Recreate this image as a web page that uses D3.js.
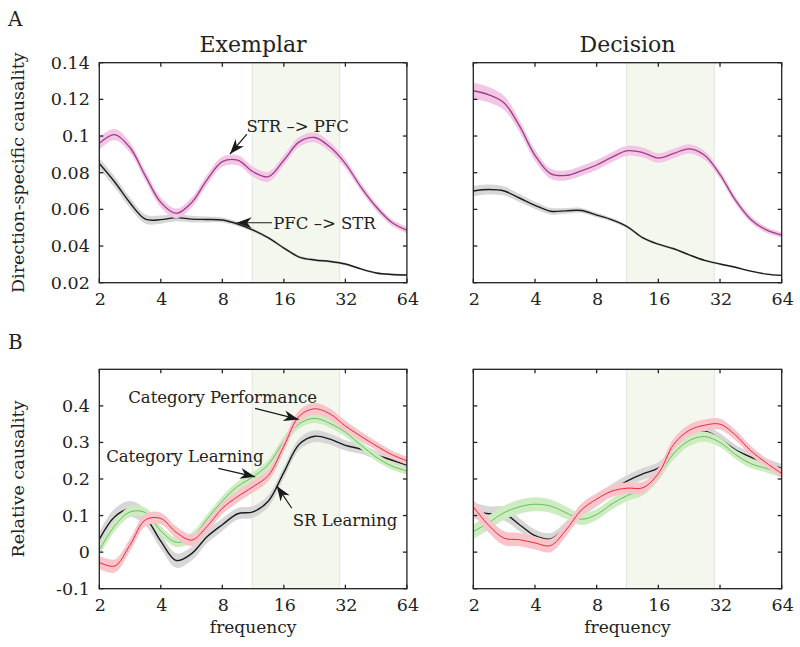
<!DOCTYPE html>
<html>
<head>
<meta charset="utf-8">
<script src="https://cdn.jsdelivr.net/npm/d3@7"></script>
<style>
  body { margin: 0; background: #fff; }
  svg { display: block; }
  text { font-family: "DejaVu Serif", serif; fill: #222; }
</style>
</head>
<body>
<svg id="chart"></svg>
<script>
// frequency grid (Hz), log2 spaced
const freqs = [2, 2.38, 2.83, 3.36, 4, 4.76, 5.66, 6.73, 8, 9.51, 11.31, 13.45, 16, 19.03, 22.63, 26.91, 32, 38.05, 45.25, 53.82, 64];
const xTickVals = [2, 4, 8, 16, 32, 64];
const topTicks = [0.02, 0.04, 0.06, 0.08, 0.1, 0.12, 0.14];
const topTickLabels = ["0.02", "0.04", "0.06", "0.08", "0.1", "0.12", "0.14"];
const botTicks = [-0.1, 0, 0.1, 0.2, 0.3, 0.4];
const botTickLabels = ["-0.1", "0", "0.1", "0.2", "0.3", "0.4"];
const betaBand = [11.2, 30];

// A: Exemplar
const exPfcStr = [0.085, 0.0749, 0.0635, 0.0547, 0.0544, 0.0555, 0.0547, 0.0545, 0.0542, 0.052, 0.0487, 0.0444, 0.0389, 0.034, 0.0324, 0.0316, 0.0302, 0.0275, 0.0253, 0.0245, 0.0242];
const exPfcStrErr = [0.003, 0.003, 0.0028, 0.0025, 0.0022, 0.002, 0.0018, 0.0016, 0.0014, 0.0012, 0.001, 0.0009, 0.0008, 0.0008, 0.0007, 0.0007, 0.0007, 0.0006, 0.0006, 0.0006, 0.0006];
const exStrPfc = [0.096, 0.1008, 0.0936, 0.0783, 0.0638, 0.0578, 0.0637, 0.0761, 0.086, 0.0868, 0.0805, 0.0778, 0.0868, 0.0968, 0.0992, 0.094, 0.085, 0.0723, 0.0614, 0.053, 0.0487];
const exStrPfcErr = [0.0035, 0.003, 0.0028, 0.0027, 0.0027, 0.0027, 0.0027, 0.0027, 0.0027, 0.0027, 0.0027, 0.0027, 0.0027, 0.0027, 0.0027, 0.0026, 0.0025, 0.0022, 0.002, 0.0018, 0.0018];

// A: Decision
const dePfcStr = [0.070, 0.0708, 0.070, 0.0662, 0.0622, 0.059, 0.0592, 0.0594, 0.0569, 0.0543, 0.0505, 0.0445, 0.041, 0.0385, 0.0352, 0.0322, 0.0302, 0.0284, 0.0263, 0.0247, 0.024];
const dePfcStrErr = [0.0028, 0.0027, 0.0025, 0.0022, 0.002, 0.0018, 0.0016, 0.0014, 0.0012, 0.001, 0.0009, 0.0008, 0.0007, 0.0007, 0.0006, 0.0006, 0.0006, 0.0005, 0.0005, 0.0005, 0.0005];
const deStrPfc = [0.1247, 0.1225, 0.118, 0.1055, 0.0895, 0.0795, 0.0785, 0.081, 0.0842, 0.0885, 0.092, 0.091, 0.088, 0.0905, 0.093, 0.0895, 0.079, 0.065, 0.0545, 0.0488, 0.046];
const deStrPfcErr = [0.0045, 0.0042, 0.0038, 0.0033, 0.003, 0.0028, 0.0027, 0.0027, 0.0027, 0.0027, 0.0027, 0.0027, 0.0026, 0.0026, 0.0025, 0.0024, 0.0022, 0.002, 0.0018, 0.0016, 0.0015];

// B: Exemplar
const exSR = [0.035, 0.097, 0.118, 0.095, 0.03, -0.023, -0.004, 0.042, 0.075, 0.105, 0.11, 0.14, 0.218, 0.295, 0.317, 0.309, 0.292, 0.282, 0.266, 0.252, 0.238];
const exSRErr = [0.02, 0.022, 0.022, 0.022, 0.02, 0.02, 0.019, 0.018, 0.017, 0.016, 0.016, 0.016, 0.016, 0.016, 0.016, 0.015, 0.014, 0.013, 0.012, 0.011, 0.01];
const exCatLearn = [0.005, 0.072, 0.11, 0.108, 0.058, 0.027, 0.04, 0.09, 0.14, 0.18, 0.206, 0.24, 0.303, 0.351, 0.366, 0.352, 0.328, 0.293, 0.26, 0.236, 0.222];
const exCatLearnErr = [0.015, 0.015, 0.014, 0.014, 0.013, 0.013, 0.013, 0.013, 0.013, 0.013, 0.013, 0.013, 0.013, 0.013, 0.013, 0.012, 0.012, 0.011, 0.011, 0.01, 0.01];
const exCatPerf = [-0.028, -0.038, 0.02, 0.088, 0.092, 0.054, 0.033, 0.07, 0.12, 0.152, 0.179, 0.21, 0.29, 0.372, 0.392, 0.378, 0.345, 0.317, 0.291, 0.267, 0.25];
const exCatPerfErr = [0.018, 0.018, 0.017, 0.017, 0.016, 0.016, 0.016, 0.016, 0.016, 0.016, 0.016, 0.016, 0.016, 0.016, 0.016, 0.015, 0.014, 0.013, 0.012, 0.011, 0.011];

// B: Decision
const deSR = [0.115, 0.105, 0.105, 0.075, 0.045, 0.036, 0.068, 0.11, 0.14, 0.17, 0.195, 0.214, 0.23, 0.27, 0.31, 0.33, 0.31, 0.28, 0.26, 0.244, 0.229];
const deSRErr = [0.022, 0.02, 0.019, 0.018, 0.017, 0.016, 0.016, 0.016, 0.016, 0.016, 0.016, 0.016, 0.016, 0.016, 0.016, 0.016, 0.015, 0.014, 0.013, 0.012, 0.012];
const deCatLearn = [0.056, 0.081, 0.108, 0.124, 0.131, 0.126, 0.108, 0.09, 0.103, 0.132, 0.155, 0.17, 0.21, 0.27, 0.305, 0.316, 0.3, 0.267, 0.242, 0.229, 0.215];
const deCatLearnErr = [0.02, 0.02, 0.019, 0.019, 0.019, 0.018, 0.017, 0.016, 0.015, 0.015, 0.015, 0.015, 0.015, 0.015, 0.015, 0.014, 0.013, 0.012, 0.012, 0.011, 0.011];
const deCatPerf = [0.124, 0.073, 0.038, 0.034, 0.025, 0.018, 0.06, 0.115, 0.145, 0.167, 0.175, 0.176, 0.215, 0.295, 0.333, 0.347, 0.35, 0.32, 0.277, 0.244, 0.215];
const deCatPerfErr = [0.02, 0.02, 0.019, 0.018, 0.018, 0.018, 0.017, 0.017, 0.016, 0.016, 0.016, 0.016, 0.016, 0.016, 0.016, 0.016, 0.015, 0.014, 0.013, 0.012, 0.012];

const width = 800, height = 647;
const svg = d3.select("#chart").attr("width", width).attr("height", height);

const styles = {
    black: { band: "#d7d7d7", line: "#1c1c1c", w: 1.4 },
    magenta: { band: "#f4c6e5", line: "#9a3f88", w: 1.3 },
    green: { band: "#cdedc1", line: "#5db558", w: 0.9 },
    red: { band: "#f9c4ca", line: "#e52a3b", w: 1.0 }
};

function arrow(g, x1, y1, x2, y2) {
    // line from tail (x1,y1) to tip (x2,y2) with a filled barbed head
    const ang = Math.atan2(y2 - y1, x2 - x1) * 180 / Math.PI;
    g.append("line")
        .attr("x1", x1).attr("y1", y1).attr("x2", x2).attr("y2", y2)
        .attr("stroke", "#1a1a1a").attr("stroke-width", 1.2);
    g.append("path")
        .attr("d", "M0,0 L-15,-5.5 L-10.5,0 L-15,5.5 Z")
        .attr("fill", "#1a1a1a")
        .attr("transform", `translate(${x2},${y2}) rotate(${ang})`);
}

function drawPanel(p) {
    const g = svg.append("g");
    const x = d3.scaleLog().base(2).domain([2, 64]).range([p.x0, p.x1]);
    const y = d3.scaleLinear().domain(p.yDomain).range([p.y1, p.y0]);

    const clipId = "clip" + p.id;
    g.append("clipPath").attr("id", clipId)
        .append("rect").attr("x", p.x0).attr("y", p.y0)
        .attr("width", p.x1 - p.x0).attr("height", p.y1 - p.y0);

    // beta band shading
    g.append("rect")
        .attr("x", x(betaBand[0])).attr("y", p.y0)
        .attr("width", x(betaBand[1]) - x(betaBand[0]))
        .attr("height", p.y1 - p.y0)
        .attr("fill", "#f4f7ee");
    betaBand.forEach(f => {
        g.append("line")
            .attr("x1", x(f)).attr("x2", x(f)).attr("y1", p.y0).attr("y2", p.y1)
            .attr("stroke", "#e2e5df").attr("stroke-width", 1);
    });

    const plot = g.append("g").attr("clip-path", `url(#${clipId})`);
    const curve = d3.curveCatmullRom.alpha(0.5);

    p.series.forEach(s => {
        const st = styles[s.color];
        const pts = freqs.map((f, i) => ({ f: f, v: s.values[i], e: s.err[i] }));
        const area = d3.area()
            .x(d => x(d.f))
            .y0(d => y(d.v - d.e))
            .y1(d => y(d.v + d.e))
            .curve(curve);
        const line = d3.line()
            .x(d => x(d.f))
            .y(d => y(d.v))
            .curve(curve);
        plot.append("path").datum(pts).attr("d", area).attr("fill", st.band);
        plot.append("path").datum(pts).attr("d", line)
            .attr("fill", "none").attr("stroke", st.line).attr("stroke-width", st.w);
    });

    // frame with inward ticks on all sides
    const tl = 4;
    const frame = g.append("g").attr("stroke", "#222").attr("stroke-width", 1.3);
    frame.append("rect")
        .attr("x", p.x0).attr("y", p.y0)
        .attr("width", p.x1 - p.x0).attr("height", p.y1 - p.y0)
        .attr("fill", "none");
    xTickVals.forEach(f => {
        frame.append("line").attr("x1", x(f)).attr("x2", x(f)).attr("y1", p.y1).attr("y2", p.y1 - tl);
        frame.append("line").attr("x1", x(f)).attr("x2", x(f)).attr("y1", p.y0).attr("y2", p.y0 + tl);
    });
    p.yTicks.forEach(v => {
        frame.append("line").attr("x1", p.x0).attr("x2", p.x0 + tl).attr("y1", y(v)).attr("y2", y(v));
        frame.append("line").attr("x1", p.x1).attr("x2", p.x1 - tl).attr("y1", y(v)).attr("y2", y(v));
    });

    // tick labels
    g.append("g").selectAll("text").data(xTickVals).join("text")
        .attr("x", d => x(d) + 1)
        .attr("y", p.y1 + 22)
        .attr("text-anchor", "middle")
        .attr("font-size", "17.5px")
        .text(d => d);
    if (p.yLabels) {
        g.append("g").selectAll("text").data(p.yTicks).join("text")
            .attr("x", p.x0 - 9.5)
            .attr("y", d => y(d) + 6)
            .attr("text-anchor", "end")
            .attr("font-size", "17.5px")
            .text((d, i) => p.yLabels[i]);
    }

    if (p.title) {
        g.append("text")
            .attr("x", (p.x0 + p.x1) / 2).attr("y", 52)
            .attr("text-anchor", "middle")
            .attr("font-size", "22px")
            .text(p.title);
    }
    if (p.xLabel) {
        g.append("text")
            .attr("x", (p.x0 + p.x1) / 2).attr("y", p.y1 + 44)
            .attr("text-anchor", "middle")
            .attr("font-size", "17px")
            .text(p.xLabel);
    }
    if (p.yTitle) {
        g.append("text")
            .attr("transform", `translate(24,${(p.y0 + p.y1) / 2}) rotate(-90)`)
            .attr("text-anchor", "middle")
            .attr("font-size", "17.5px")
            .text(p.yTitle);
    }

    // annotations, placed in data coordinates
    (p.notes || []).forEach(n => {
        g.append("text")
            .attr("x", x(n.tf)).attr("y", y(n.tv))
            .attr("font-size", "16.5px")
            .text(n.text);
        arrow(g, x(n.from[0]), y(n.from[1]), x(n.to[0]), y(n.to[1]));
    });
    return { x, y };
}

const topL = { x0: 99.3, x1: 406.9 }, topR = { x0: 473.3, x1: 781.7 };

drawPanel({
    id: 1, x0: topL.x0, x1: topL.x1, y0: 62.7, y1: 282.7,
    yDomain: [0.02, 0.14], yTicks: topTicks, yLabels: topTickLabels,
    title: "Exemplar", yTitle: "Direction-specific causality",
    series: [
        { values: exPfcStr, err: exPfcStrErr, color: "black" },
        { values: exStrPfc, err: exStrPfcErr, color: "magenta" }
    ],
    notes: [
        { text: "STR \u2013> PFC", tf: 10.5, tv: 0.1024, from: [10.55, 0.101], to: [8.72, 0.0902] },
        { text: "PFC \u2013> STR", tf: 14.2, tv: 0.0493, from: [14.0, 0.0527], to: [9.4, 0.0527] }
    ]
});
drawPanel({
    id: 2, x0: topR.x0, x1: topR.x1, y0: 62.7, y1: 282.7,
    yDomain: [0.02, 0.14], yTicks: topTicks,
    title: "Decision",
    series: [
        { values: dePfcStr, err: dePfcStrErr, color: "black" },
        { values: deStrPfc, err: deStrPfcErr, color: "magenta" }
    ]
});
drawPanel({
    id: 3, x0: topL.x0, x1: topL.x1, y0: 369.3, y1: 588.7,
    yDomain: [-0.1, 0.5], yTicks: botTicks, yLabels: botTickLabels,
    yTitle: "Relative causality", xLabel: "frequency",
    series: [
        { values: exSR, err: exSRErr, color: "black" },
        { values: exCatLearn, err: exCatLearnErr, color: "green" },
        { values: exCatPerf, err: exCatPerfErr, color: "red" }
    ],
    notes: [
        { text: "Category Performance", tf: 2.77, tv: 0.408, from: [11.57, 0.393], to: [18.9, 0.363] },
        { text: "Category Learning", tf: 2.16, tv: 0.2465, from: [7.65, 0.229], to: [11.57, 0.206] },
        { text: "SR Learning", tf: 17.7, tv: 0.0714, from: [17.5, 0.12], to: [14.77, 0.181] }
    ]
});
drawPanel({
    id: 4, x0: topR.x0, x1: topR.x1, y0: 369.3, y1: 588.7,
    yDomain: [-0.1, 0.5], yTicks: botTicks,
    xLabel: "frequency",
    series: [
        { values: deSR, err: deSRErr, color: "black" },
        { values: deCatLearn, err: deCatLearnErr, color: "green" },
        { values: deCatPerf, err: deCatPerfErr, color: "red" }
    ]
});

svg.append("text").attr("x", 8).attr("y", 26).attr("font-size", "20px").text("A");
svg.append("text").attr("x", 8).attr("y", 349).attr("font-size", "20px").text("B");
</script>
</body>
</html>
